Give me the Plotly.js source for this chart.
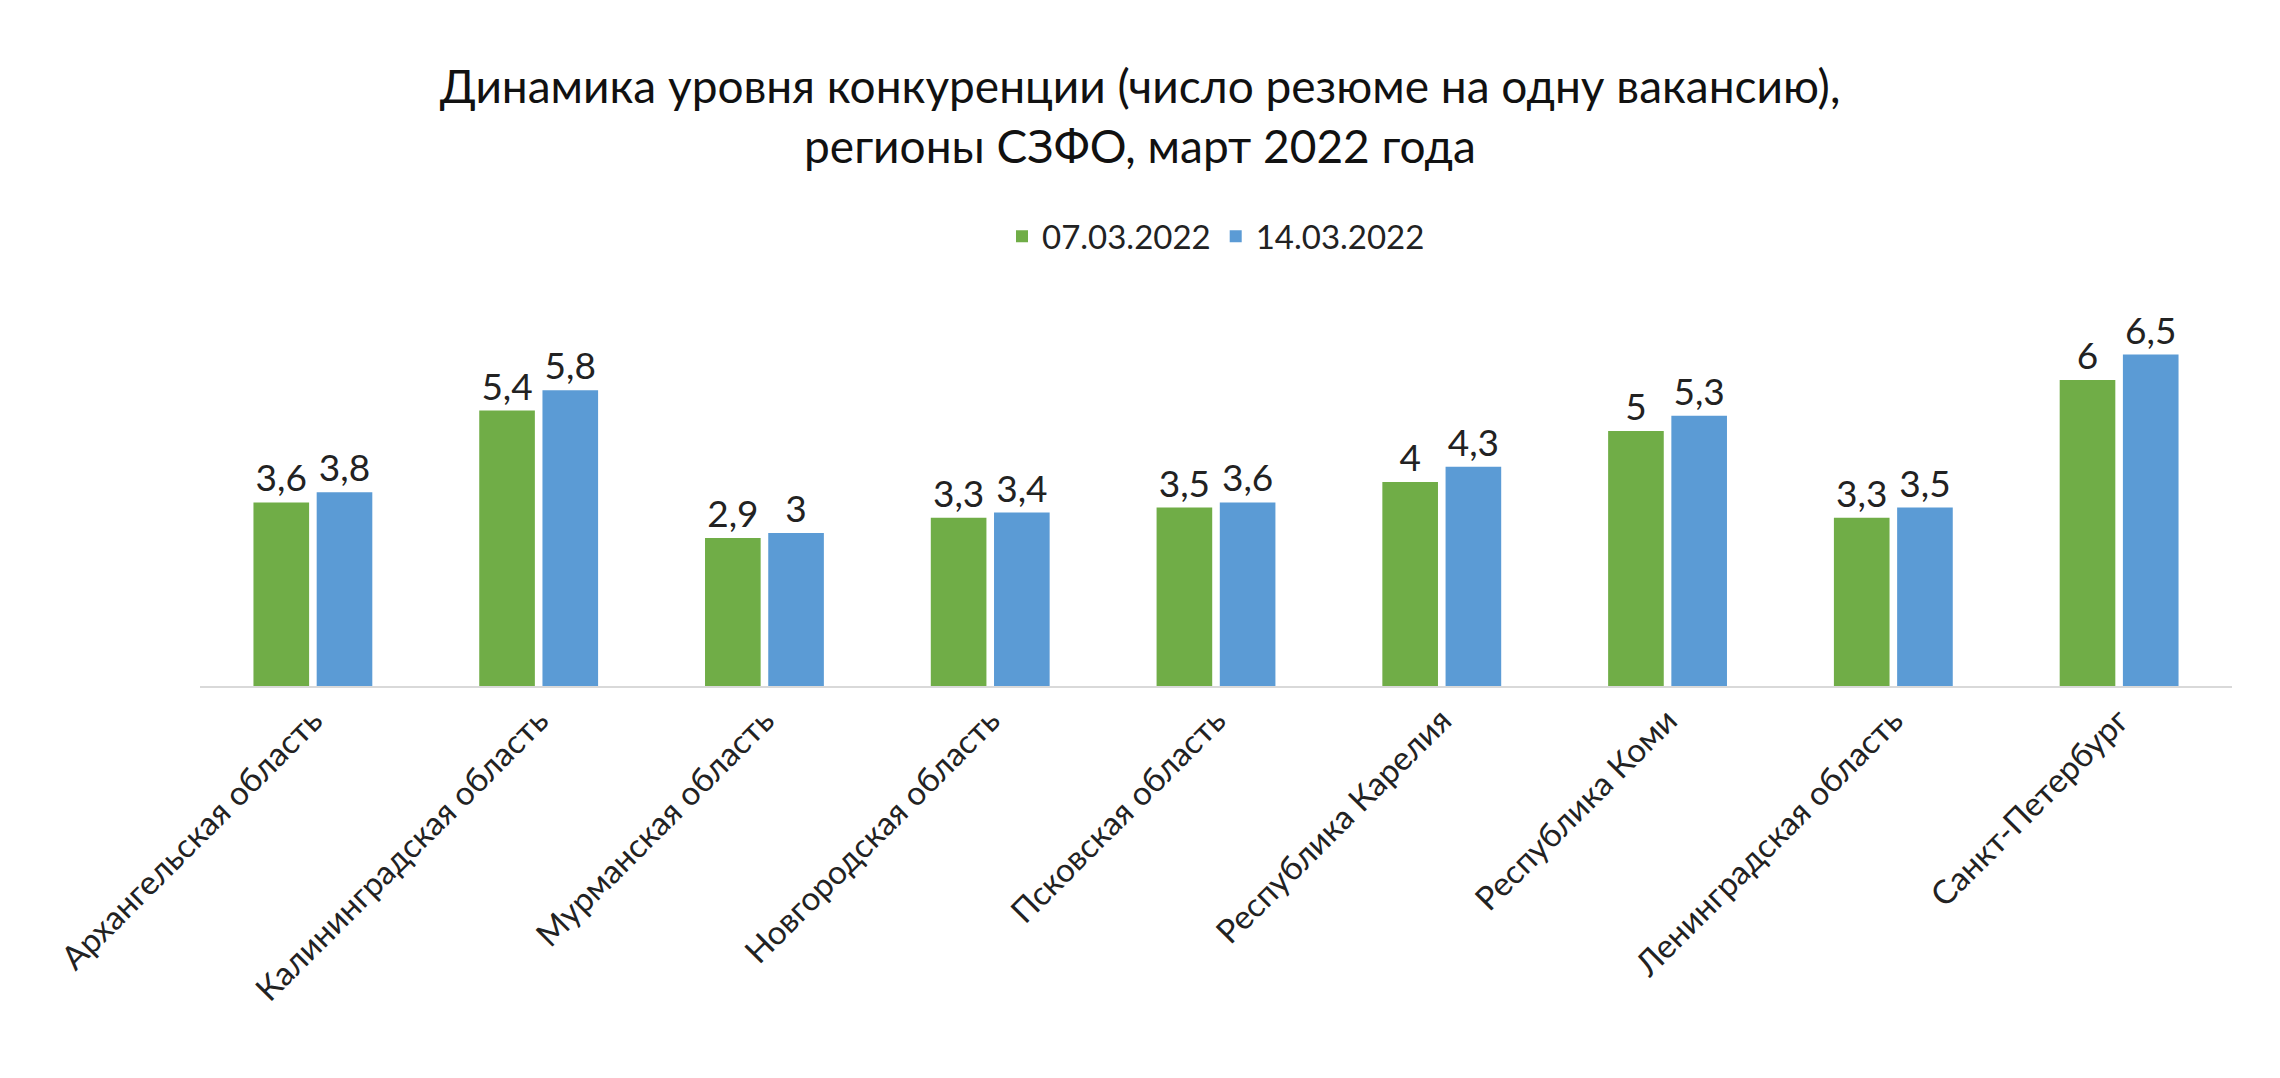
<!DOCTYPE html>
<html lang="ru">
  <head>
    <meta charset="UTF-8" />
    <title>Динамика уровня конкуренции</title>
    <script src="https://cdn.plot.ly/plotly-3.0.1.min.js"></script>
    <style>
      html, body { margin: 0; padding: 0; background: #ffffff; }
      #chart { width: 2280px; height: 1078px; }
    </style>
  </head>
  <body>
    <div id="chart"></div>
    <script>
      const regions = [
        "Архангельская область",
        "Калининградская область",
        "Мурманская область",
        "Новгородская область",
        "Псковская область",
        "Республика Карелия",
        "Республика Коми",
        "Ленинградская область",
        "Санкт-Петербург",
      ];
      const march07 = [3.6, 5.4, 2.9, 3.3, 3.5, 4, 5, 3.3, 6];
      const march14 = [3.8, 5.8, 3, 3.4, 3.6, 4.3, 5.3, 3.5, 6.5];

      const font = "Lato, 'Open Sans', sans-serif";

      function series(name, values, color) {
        return {
          type: "bar",
          name: name,
          x: regions,
          y: values,
          marker: { color: color },
          text: values.map((v) => String(v).replace(".", ",")),
          textposition: "outside",
          textfont: { size: 37, color: "#222222", family: font },
          cliponaxis: false,
        };
      }

      const data = [
        series("07.03.2022", march07, "#70AD47"),
        series("14.03.2022", march14, "#5B9BD5"),
      ];

      const layout = {
        width: 2280,
        height: 1078,
        margin: { l: 200, r: 48, t: 329, b: 392 },
        font: { family: font, color: "#222222" },
        title: {
          text: "Динамика уровня конкуренции (число резюме на одну вакансию),<br>регионы СЗФО, март 2022 года",
          font: { size: 46, color: "#111111" },
          x: 0.5,
          y: 0.904,
          yanchor: "middle",
        },
        showlegend: true,
        legend: {
          orientation: "h",
          x: 0.5,
          xanchor: "center",
          y: 1.26,
          yanchor: "middle",
          font: { size: 33 },
        },
        bargap: 0.44,
        bargroupgap: 0.12,
        xaxis: {
          tickangle: -45,
          tickfont: { size: 33 },
          showline: true,
          linecolor: "#d9d9d9",
          linewidth: 2,
          ticks: "",
        },
        yaxis: {
          range: [0, 7],
          visible: false,
          showgrid: false,
        },
        plot_bgcolor: "#ffffff",
        paper_bgcolor: "#ffffff",
      };

      Plotly.newPlot("chart", data, layout, { displayModeBar: false });
    </script>
  </body>
</html>
